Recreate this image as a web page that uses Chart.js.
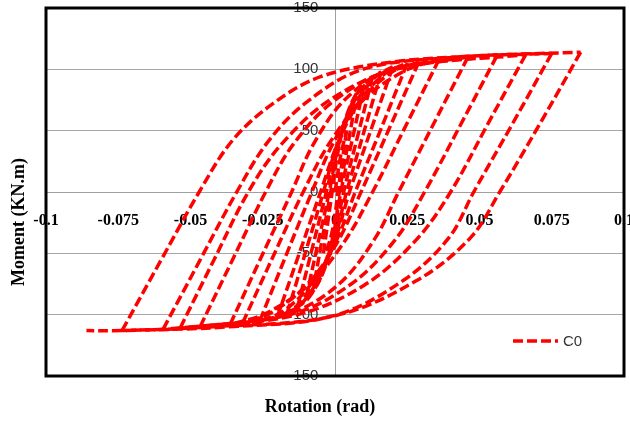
<!DOCTYPE html>
<html>
<head>
<meta charset="utf-8">
<script src="https://cdn.jsdelivr.net/npm/chart.js@4.4.1/dist/chart.umd.min.js"></script>
<style>
  html, body { margin: 0; padding: 0; background: #fff; }
  #wrap { width: 630px; height: 421px; }
</style>
</head>
<body>
<div id="wrap"><canvas id="hyst" width="630" height="421"></canvas></div>
<script>
// cyclic moment-rotation path, one line per half cycle
const rotation = [
  0, 0.002, 0.004,
  0.0025, 0.001, 0.0, -0.00125, -0.00275, -0.004,
  -0.0025, -0.001, 0.0006, 0.0026, 0.005, 0.007,
  0.00425, 0.0015, -0.0002, -0.0023, -0.0049, -0.007,
  -0.00425, -0.0015, 0.0008, 0.0037, 0.0071, 0.010,
  0.006, 0.002, -0.0004, -0.0034, -0.007, -0.010,
  -0.006, -0.002, 0.001, 0.00475, 0.00925, 0.013,
  0.008, 0.003, -0.0002, -0.0042, -0.009, -0.013,
  -0.008, -0.003, 0.0008, 0.0056, 0.0113, 0.016,
  0.010, 0.004, -0.0001, -0.0053, -0.0115, -0.0166,
  -0.0103, -0.004, 0.0008, 0.0068, 0.014, 0.020,
  0.0125, 0.005, 0.0, -0.00625, -0.01375, -0.020,
  -0.0125, -0.005, 0.001, 0.0085, 0.0175, 0.025,
  0.016, 0.007, 0.0004, -0.0079, -0.0178, -0.026,
  -0.017, -0.008, -0.0006, 0.0087, 0.0198, 0.029,
  0.019, 0.009, 0.0008, -0.0095, -0.0218, -0.032,
  -0.0215, -0.011, -0.0016, 0.0102, 0.0243, 0.036,
  0.0245, 0.013, 0.0031, -0.0092, -0.024, -0.0363,
  -0.0257, -0.015, -0.0077, 0.0033, 0.0186, 0.046,
  0.034, 0.022, 0.0138, 0.0014, -0.0158, -0.0467,
  -0.0354, -0.024, -0.0144, 0.0, 0.020, 0.056,
  0.0435, 0.031, 0.0208, 0.0056, -0.0155, -0.0536,
  -0.0418, -0.030, -0.0185, -0.0012, 0.0228, 0.066,
  0.053, 0.040, 0.0281, 0.0101, -0.0147, -0.0595,
  -0.0468, -0.034, -0.0235, -0.0105, 0.0096, 0.0423, 0.075,
  0.0615, 0.048, 0.0395, 0.0237, -0.0007, -0.0372, -0.0737,
  -0.0603, -0.047, -0.0355, -0.0215, -0.005, 0.02, 0.05, 0.085,
  0.071, 0.057, 0.047, 0.0284, -0.0002, -0.0431, -0.0737, -0.086
];
const moment = [
  0, 30, 50,
  25, 0, -19, -35, -46, -50,
  -25, 0, 27, 50, 66, 72,
  36, 0, -27, -50, -66, -72,
  -36, 0, 33, 60, 79, 86,
  43, 0, -33, -60, -79, -86,
  -43, 0, 36, 66, 86, 94,
  47, 0, -36, -66, -86, -94,
  -47, 0, 37, 69, 90, 98,
  49, 0, -38, -69, -91, -99,
  -50, 0, 39, 71, 94, 102,
  51, 0, -39, -71, -94, -102,
  -51, 0, 40, 74, 97, 105,
  52, 0, -40, -74, -97, -105,
  -52, 0, 40, 74, 98, 106,
  53, 0, -41, -75, -98, -107,
  -53, 0, 41, 76, 99, 108,
  54, 0, -41, -76, -99, -108,
  -54, 0, 38, 75, 99, 110,
  55, 0, -38, -75, -99, -110,
  -55, 0, 39, 75, 100, 111,
  55, 0, -39, -75, -100, -111,
  -55, 0, 39, 76, 101, 112,
  56, 0, -39, -76, -101, -112,
  -56, 0, 40, 72, 100, 110, 113,
  56, 0, -37, -72, -101, -110, -113,
  -56, 0, 42, 72, 94, 106, 111, 114,
  56, 0, -37, -72, -101, -110, -113, -113
];
const xTicks = [-0.1, -0.075, -0.05, -0.025, 0, 0.025, 0.05, 0.075, 0.1];
const yTicks = [-150, -100, -50, 0, 50, 100, 150];
const seriesName = 'C0';
const xTitle = 'Rotation (rad)';
const yTitle = 'Moment (KN.m)';

const red = '#ff0000';
const dash = [10, 4];

// split the path into branches at every load reversal
const branches = [];
let start = 0;
for (let i = 1; i < rotation.length - 1; i++) {
  if ((rotation[i] - rotation[i - 1]) * (rotation[i + 1] - rotation[i]) < 0) {
    branches.push([start, i]);
    start = i;
  }
}
branches.push([start, rotation.length - 1]);

const datasets = branches.map(([a, b]) => ({
  label: seriesName,
  data: rotation.slice(a, b + 1).map((x, j) => ({ x: x, y: moment[a + j] })),
  showLine: true,
  borderColor: red,
  borderWidth: 3.5,
  borderDash: dash,
  pointRadius: 0,
  tension: 0.35,
  fill: false
}));

// axes sit inside the plot, so they must not push the plot area in
const noPad = (s) => { s.paddingLeft = s.paddingRight = s.paddingTop = s.paddingBottom = 0; };

const decor = {
  id: 'decor',
  afterDraw(chart) {
    const { ctx, chartArea: a } = chart;
    ctx.save();
    // plot frame
    ctx.strokeStyle = '#000';
    ctx.lineWidth = 3;
    ctx.strokeRect(a.left, a.top, a.right - a.left, a.bottom - a.top);

    // legend, lower right inside the plot
    const ly = a.bottom - 35;
    const lx = a.right - 111;
    ctx.strokeStyle = red;
    ctx.lineWidth = 3.5;
    ctx.setLineDash(dash);
    ctx.beginPath();
    ctx.moveTo(lx, ly);
    ctx.lineTo(lx + 45, ly);
    ctx.stroke();
    ctx.setLineDash([]);
    ctx.fillStyle = '#333';
    ctx.font = '15px "Liberation Sans", Arial, sans-serif';
    ctx.textAlign = 'left';
    ctx.textBaseline = 'middle';
    ctx.fillText(seriesName, lx + 50, ly + 1);

    // axis titles
    ctx.fillStyle = '#000';
    ctx.font = 'bold 18px "Liberation Serif", "Times New Roman", serif';
    ctx.textAlign = 'center';
    ctx.fillText(xTitle, (a.left + a.right) / 2 - 15, a.bottom + 31);
    ctx.translate(19, (a.top + a.bottom) / 2 + 30);
    ctx.rotate(-Math.PI / 2);
    ctx.fillText(yTitle, 0, 0);
    ctx.restore();
  }
};

new Chart(document.getElementById('hyst'), {
  type: 'scatter',
  data: { datasets: datasets },
  options: {
    responsive: false,
    animation: false,
    layout: { padding: { left: 46, right: 6, top: 8, bottom: 45 } },
    plugins: {
      legend: { display: false },
      tooltip: { enabled: false }
    },
    scales: {
      x: {
        type: 'linear',
        min: -0.1,
        max: 0.1,
        position: { y: 0 },
        afterBuildTicks: (s) => { s.ticks = xTicks.map(v => ({ value: v })); },
        afterFit: noPad,
        grid: { display: false, drawTicks: false },
        border: { display: true, color: '#a0a0a0', width: 1 },
        ticks: {
          padding: 19,
          maxRotation: 0,
          autoSkip: false,
          color: '#000',
          font: { family: '"Liberation Serif", "Times New Roman", serif', size: 16, weight: 'bold' },
          callback: (v) => String(v)
        }
      },
      y: {
        type: 'linear',
        min: -150,
        max: 150,
        position: { x: 0 },
        afterBuildTicks: (s) => { s.ticks = yTicks.map(v => ({ value: v })); },
        afterFit: noPad,
        grid: { color: '#a6a6a6', lineWidth: 1, drawTicks: false },
        border: { display: true, color: '#a0a0a0', width: 1 },
        ticks: {
          autoSkip: false,
          color: '#333',
          font: { family: '"Liberation Sans", Arial, sans-serif', size: 15 },
          // labels stand off the axis line by a gap of about four spaces
          callback: (v) => String(v) + '    '
        }
      }
    }
  },
  plugins: [decor]
});
</script>
</body>
</html>
